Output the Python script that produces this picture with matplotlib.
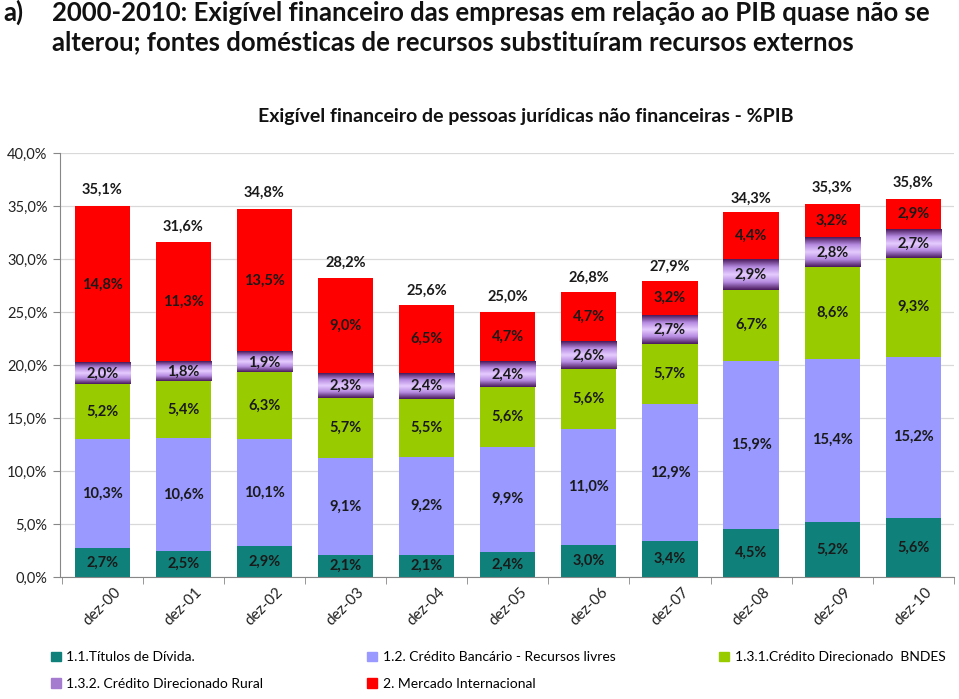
import numpy as np
import matplotlib
matplotlib.use("Agg")
import matplotlib.pyplot as plt
from matplotlib.colors import LinearSegmentedColormap
from matplotlib.patches import Patch
from matplotlib.transforms import ScaledTranslation

plt.rcParams['font.family'] = ['Lato', 'DejaVu Sans']

# data (% do PIB)
categorias = ['dez-00', 'dez-01', 'dez-02', 'dez-03', 'dez-04', 'dez-05',
              'dez-06', 'dez-07', 'dez-08', 'dez-09', 'dez-10']
titulos = [2.7, 2.5, 2.9, 2.1, 2.1, 2.4, 3.0, 3.4, 4.5, 5.2, 5.6]
credito_livre = [10.3, 10.6, 10.1, 9.1, 9.2, 9.9, 11.0, 12.9, 15.9, 15.4, 15.2]
bndes = [5.2, 5.4, 6.3, 5.7, 5.5, 5.6, 5.6, 5.7, 6.7, 8.6, 9.3]
rural = [2.0, 1.8, 1.9, 2.3, 2.4, 2.4, 2.6, 2.7, 2.9, 2.8, 2.7]
mercado_int = [14.8, 11.3, 13.5, 9.0, 6.5, 4.7, 4.7, 3.2, 4.4, 3.2, 2.9]
totais = [35.1, 31.6, 34.8, 28.2, 25.6, 25.0, 26.8, 27.9, 34.3, 35.3, 35.8]

nomes = ['1.1.Títulos de Dívida.',
         '1.2. Crédito Bancário - Recursos livres',
         '1.3.1.Crédito Direcionado  BNDES',
         '1.3.2. Crédito Direcionado Rural',
         '2. Mercado Internacional']
cores = ['#0F807A', '#9999FF', '#99CC00', '#A57BD0', '#FF0000']

series = [titulos, credito_livre, bndes, rural, mercado_int]

fig = plt.figure(figsize=(9.59, 6.99), dpi=100)
ax = fig.add_axes([0.0626, 0.1745, 0.932, 0.6066])

x = np.arange(len(categorias))
largura = 0.68
fundo = np.zeros(len(categorias))
gradiente = LinearSegmentedColormap.from_list(
    'rural', ['#4A1A5C', '#B58AE0', '#E6CCFF', '#B58AE0', '#4A1A5C'])
grad_img = np.linspace(0, 1, 64).reshape(-1, 1)

for i, (vals, cor) in enumerate(zip(series, cores)):
    vals = np.array(vals)
    ax.bar(x, vals, largura, bottom=fundo, color=cor, zorder=2)
    if i == 3:
        for xi, b, v in zip(x, fundo, vals):
            ax.imshow(grad_img, cmap=gradiente, aspect='auto', zorder=3,
                      extent=[xi - largura / 2, xi + largura / 2, b + v, b],
                      interpolation='bilinear')
    for xi, b, v in zip(x, fundo, vals):
        ax.text(xi, b + v / 2, f'{v:.1f}%'.replace('.', ','),
                ha='center', va='center', fontsize=10.5, fontweight='bold',
                color='#1A1A1A', zorder=5)
    fundo = fundo + vals

for xi, t in zip(x, totais):
    ax.text(xi, t + 1.4, f'{t:.1f}%'.replace('.', ','), ha='center',
            va='center', fontsize=10.5, fontweight='bold', color='#1A1A1A')

ax.set_xlim(-0.52, 10.5)
ax.set_ylim(0, 40)
ax.set_yticks(np.arange(0, 41, 5))
ax.set_yticklabels([f'{v:.1f}%'.replace('.', ',') for v in np.arange(0, 41, 5)],
                   fontsize=10.5, color='#222222')
ax.yaxis.grid(True, color='#D9D9D9', linewidth=0.9, zorder=0)
ax.set_axisbelow(True)

ax.set_xticks(x)
ax.set_xticklabels(categorias, rotation=45, ha='center', va='top',
                   fontsize=11, color='#222222')
offset = ScaledTranslation(-13 / 100, -15 / 100, fig.dpi_scale_trans)
for lbl in ax.get_xticklabels():
    lbl.set_transform(lbl.get_transform() + offset)
ax.set_xticks(np.arange(-0.5, 11, 1), minor=True)
ax.tick_params(axis='x', which='major', length=0, pad=6)
ax.tick_params(axis='x', which='minor', length=5, color='#878787')
ax.tick_params(axis='y', length=5, color='#878787', pad=4)

for s in ['top', 'right']:
    ax.spines[s].set_visible(False)
ax.spines['left'].set_color('#878787')
ax.spines['bottom'].set_color('#878787')

fig.text(0.003, 0.982, 'a)', fontsize=18.5, fontweight='bold', va='center',
         color='#111111')
fig.text(0.054, 0.982,
         '2000-2010: Exigível financeiro das empresas em relação ao PIB quase não se',
         fontsize=18.5, fontweight='bold', va='center', color='#111111')
fig.text(0.054, 0.939,
         'alterou; fontes domésticas de recursos substituíram recursos externos',
         fontsize=18.5, fontweight='bold', va='center', color='#111111')
fig.text(0.548, 0.833,
         'Exigível financeiro de pessoas jurídicas não financeiras - %PIB',
         fontsize=14, fontweight='bold', ha='center', va='center',
         color='#111111')

handles = [Patch(color=c, label=n) for c, n in zip(cores, nomes)]
ordem = [0, 3, 1, 4, 2]
fig.legend([handles[k] for k in ordem], [nomes[k] for k in ordem],
           ncol=3, loc='upper left', bbox_to_anchor=(0.04, 0.086),
           frameon=False, fontsize=10, handlelength=0.7, handleheight=0.7,
           handletextpad=0.4, columnspacing=7.5, labelspacing=1.05)

fig.savefig('out.png', dpi=100)
